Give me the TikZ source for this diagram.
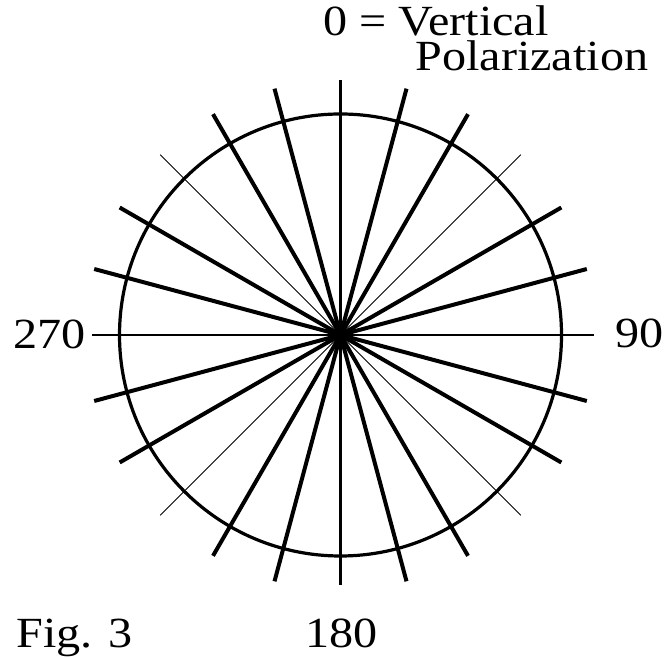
\documentclass[tikz,border=0pt]{standalone}
\usepackage{fontspec}
\setmainfont{Liberation Serif}[FakeStretch=1.12]
\usepackage{tikz}
\usetikzlibrary{calc}

\begin{document}
\begin{tikzpicture}[
    x=0.5pt, y=0.5pt,
    every node/.style={font=\fontsize{21.5}{26}\selectfont, inner sep=0pt},
    lbl/.style={anchor=base west},
    rim/.style={draw, line width=1.6pt},
    axisline/.style={line width=1.2pt},
    thickray/.style={line width=2pt},
    thinray/.style={line width=0.5pt},
]
\useasboundingbox (0,0) rectangle (667,657);

% Centre of the dial
\coordinate (c) at (340.5,322);

% Circle
\draw[rim] (c) circle (221);

% Vertical and horizontal axes
\draw[axisline] (c) ++(90:255) coordinate (top) -- ++(270:505) coordinate (bottom);
\draw[axisline] (c) ++(180:249) coordinate (west) -- ++(0:502) coordinate (east);

% Thin diagonals
\foreach \a in {45, 135} {
    \draw[thinray] (c) ++(\a:255) -- ++(\a+180:510);
}

% Thick rays every 15 degrees
\foreach \a in {15, 30, 60, 75, 105, 120, 150, 165} {
    \draw[thickray] (c) ++(\a:255) -- ++(\a+180:510);
}

% Labels
\node[lbl] (vert) at (323,621) {0 = Vertical};
\node[lbl] (pol) at (415,586) {Polarization};
\node[lbl] (w270) at (13,308) {270};
\node[lbl] (e90) at (615,309) {90};
\node[lbl] (s180) at (305,10) {180};
\node[lbl] (fig) at (16,10) {Fig. 3};

\end{tikzpicture}
\end{document}
